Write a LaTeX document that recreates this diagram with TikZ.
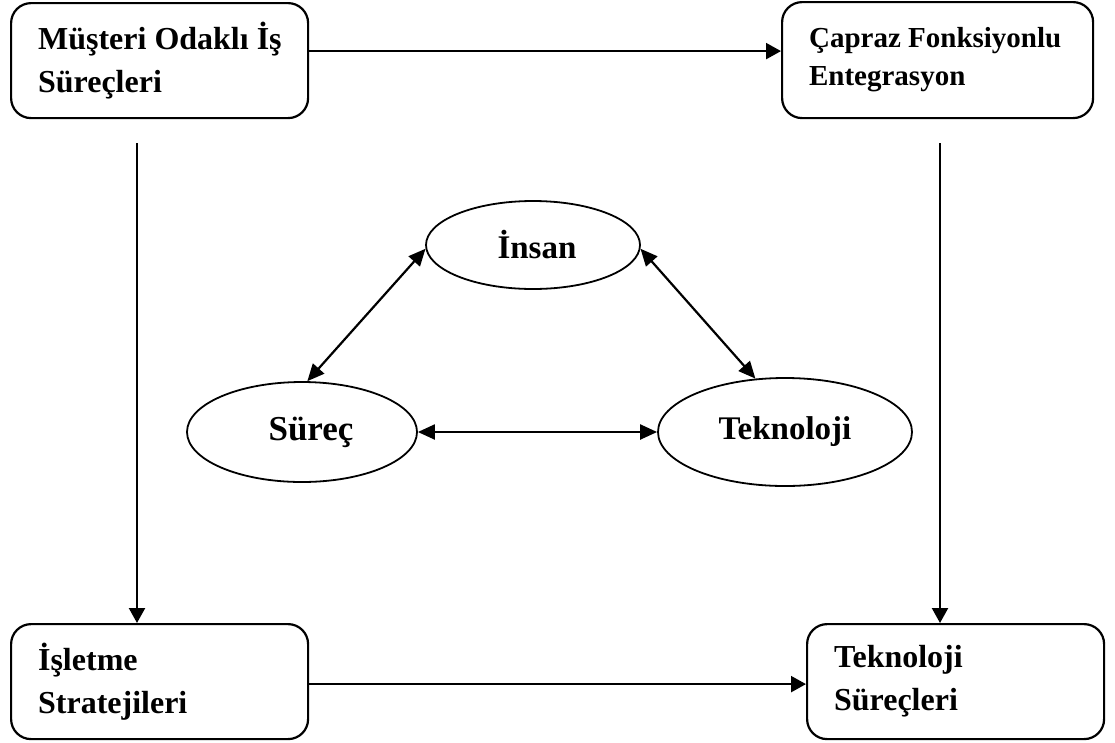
\documentclass[tikz,border=0pt]{standalone}
\usepackage{fontspec}
\setmainfont{Liberation Serif}
\usetikzlibrary{arrows.meta,shapes.geometric}
\begin{document}
\begin{tikzpicture}[x=1pt,y=-1pt,
  box/.style={draw,line width=2.2pt,rounded corners=20pt,align=flush left,
    inner xsep=0pt,inner ysep=0pt,anchor=north west,text width=297pt,
    minimum height=115pt,execute at begin node={\leftskip=27pt\relax},
    font=\fontsize{32}{43}\selectfont\bfseries},
  oval/.style={draw,line width=1.8pt,ellipse,inner sep=0pt,
    font=\fontsize{33}{38}\selectfont\bfseries},
  arr/.style={line width=2.2pt,-{Triangle[length=15pt,width=16pt]}},
  darr/.style={line width=2.2pt,{Triangle[length=17pt,width=15pt]}-{Triangle[length=17pt,width=15pt]}}]
\useasboundingbox (0,0) rectangle (1115,742);

% four corner boxes
\node[box] (tl) at (10,2) {Müşteri Odaklı İş\\Süreçleri};
\node[box,text width=311pt,minimum height=116pt,
  font=\fontsize{29}{38}\selectfont\bfseries] (tr) at (781,1)
  {Çapraz Fonksiyonlu\\Entegrasyon};
\node[box] (bl) at (10,623) {İşletme\\Stratejileri};
\node[box] (br) at (806,623) {Teknoloji\\Süreçleri};

% central triangle of ellipses
\node[oval,minimum width=214pt,minimum height=88pt] (insan) at (533,245)
  {\hspace*{8pt}İnsan};
\node[oval,minimum width=230pt,minimum height=100pt] (surec) at (302,432)
  {\hspace*{18pt}\fontsize{35}{38}\selectfont Süreç};
\node[oval,minimum width=254pt,minimum height=108pt] (tek) at (785,432) {Teknoloji};

% outer flow
\coordinate (ls) at (137,143);
\coordinate (rs) at (940,143);
\draw[arr] ([yshift=9.5pt]tl.east) -- ([yshift=9pt]tr.west);
\draw[arr] ([yshift=-2.5pt]bl.east) -- ([yshift=-2.5pt]br.west);
\draw[arr] (ls) -- (ls |- bl.north);
\draw[arr] (rs) -- (rs |- br.north);

% inner relations
\draw[darr] (insan.182) -- (surec.84);
\draw[darr] (insan.-2) -- (tek.119);
\draw[darr] (surec.east) -- (tek.west);
\end{tikzpicture}
\end{document}
